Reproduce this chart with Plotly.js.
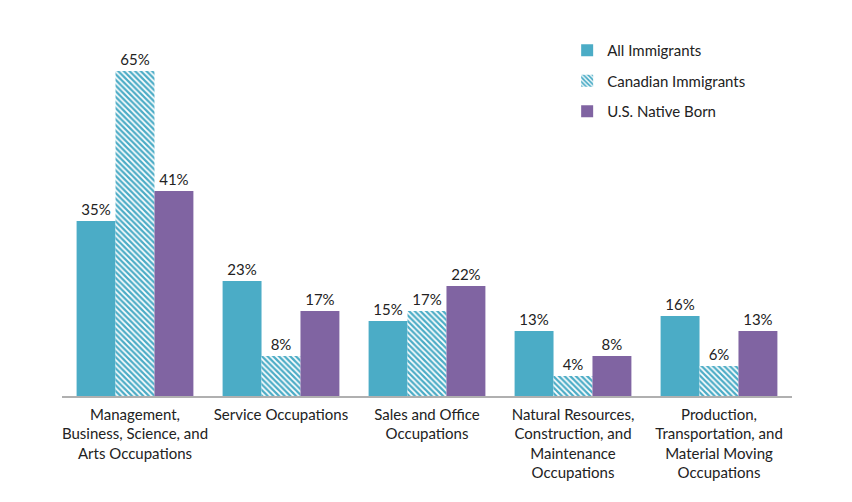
<!DOCTYPE html>
<html>
<head>
<meta charset="utf-8">
<script src="https://cdn.plot.ly/plotly-3.0.1.min.js"></script>
<style>
  body { margin: 0; background: #fff; }
  #graph { width: 852px; height: 502px; }
</style>
</head>
<body>
<div id="graph"></div>
<script>
// occupation groups, shown as x tick labels
const categories = [
    'Management,<br>Business, Science, and<br>Arts Occupations',
    'Service Occupations',
    'Sales and Office<br>Occupations',
    'Natural Resources,<br>Construction, and<br>Maintenance<br>Occupations',
    'Production,<br>Transportation, and<br>Material Moving<br>Occupations'
];

const allImmigrants = [35, 23, 15, 13, 16];
const canadianImmigrants = [65, 8, 17, 4, 6];
const nativeBorn = [41, 17, 22, 8, 13];

const teal = '#4BACC6';
const purple = '#8064A2';
const textColor = '#222222';

function barTrace(name, values, color, group, pattern) {
    const trace = {
        x: categories,
        y: values,
        name: name,
        type: 'bar',
        legendgroup: group,
        marker: { color: color, line: { width: 0 } },
        text: values.map(v => v + '%'),
        textposition: 'outside',
        textfont: { family: 'Lato', size: 15, color: textColor },
        cliponaxis: false,
        hoverinfo: 'x+y'
    };
    if (pattern) {
        trace.marker.pattern = {
            shape: '\\',
            fgcolor: '#ffffff',
            bgcolor: color,
            size: 4,
            solidity: 0.45
        };
    }
    return trace;
}

function init_plot() {
    const data = [
        barTrace('All Immigrants', allImmigrants, teal, 'a', false),
        barTrace('Canadian Immigrants', canadianImmigrants, teal, 'b', true),
        barTrace('U.S. Native Born', nativeBorn, purple, 'c', false)
    ];

    const layout = {
        width: 852,
        height: 502,
        margin: { l: 62, r: 60, t: 46, b: 106 },
        paper_bgcolor: '#ffffff',
        plot_bgcolor: '#ffffff',
        font: { family: 'Lato, "Open Sans", sans-serif', size: 15, color: textColor },
        barmode: 'group',
        bargap: 0.2,
        bargroupgap: 0,
        showlegend: true,
        legend: {
            x: 0.692,
            y: 1.034,
            xanchor: 'left',
            yanchor: 'top',
            traceorder: 'grouped',
            tracegroupgap: 8,
            font: { family: 'Lato', size: 15, color: textColor },
            itemwidth: 30
        },
        xaxis: {
            showline: true,
            linecolor: '#b0b0b0',
            linewidth: 1.5,
            ticks: '',
            ticklabelstandoff: 4,
            tickfont: { family: 'Lato', size: 15, color: textColor },
            showgrid: false
        },
        yaxis: {
            range: [0, 70],
            visible: false,
            showgrid: false,
            zeroline: false
        }
    };

    Plotly.react('graph', data, layout, { displayModeBar: false });
}

window.addEventListener("load", init_plot, false);
</script>
</body>
</html>
